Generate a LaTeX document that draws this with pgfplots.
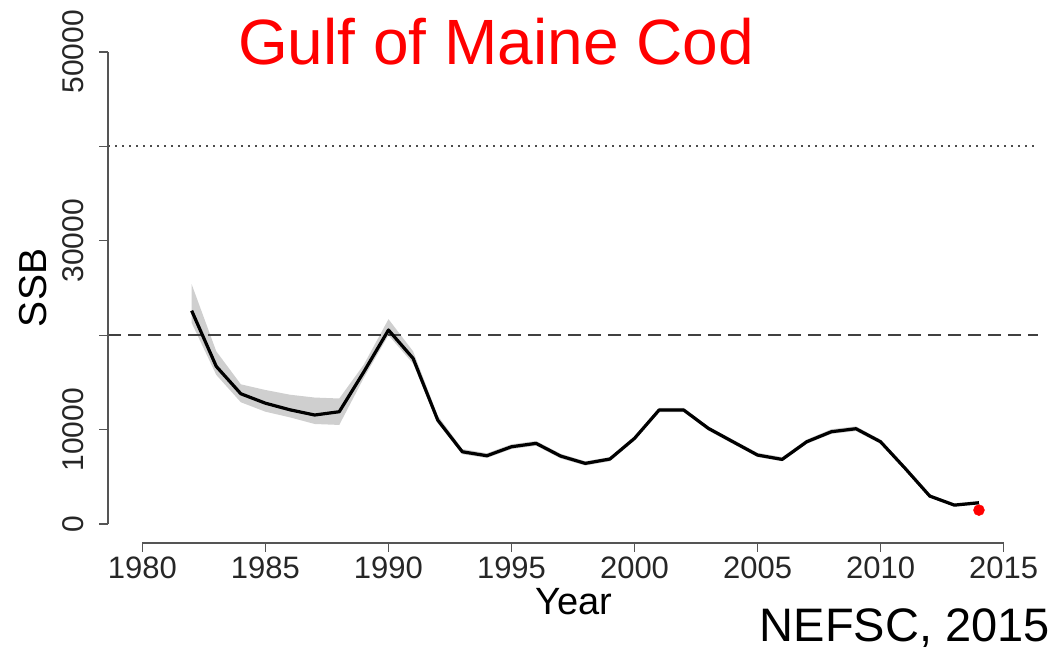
\documentclass[border=0pt]{standalone}
\usepackage{fontspec}
\setmainfont{Liberation Sans}
\usepackage{pgfplots}
\usepackage{pgfplotstable}
\usepgfplotslibrary{fillbetween}
\pgfplotsset{compat=1.18}
\pgfplotstableread{
year ssb lo hi
1982 22600 21300 25400
1983 16700 15800 18300
1984 13800 12900 14800
1985 12800 11900 14200
1986 12100 11300 13700
1987 11550 10600 13400
1988 11900 10500 13300
1989 16130 15500 16900
1990 20550 20000 21700
1991 17550 17000 18300
1992 11020 10700 11500
1993 7660 7400 7950
1994 7240 7000 7500
1995 8190 7950 8450
1996 8550 8300 8800
1997 7200 6950 7450
1998 6430 6200 6650
1999 6890 6650 7100
2000 9080 8850 9300
2001 12080 11850 12300
2002 12080 11850 12300
2003 10140 9900 10350
2004 8720 8500 8950
2005 7310 7100 7550
2006 6850 6650 7100
2007 8720 8500 8950
2008 9780 9550 10050
2009 10100 9850 10350
2010 8720 8500 8950
2011 5900 5700 6100
2012 2970 2800 3150
2013 2010 1850 2200
2014 2260 2100 2450
}\ssbdata
\definecolor{axgray}{HTML}{555555}
\begin{document}
\begin{tikzpicture}
\begin{axis}[
  at={(108pt,107pt)}, anchor=south west,
  scale only axis, width=930pt, height=510pt,
  xmin=1978.6, xmax=2016.4, ymin=-2000, ymax=52000,
  clip=false,
  axis line style={draw=none},
  xtick={1980,1985,...,2015},
  ytick={0,10000,20000,30000,40000,50000},
  yticklabels={0,10000,,30000,,50000},
  scaled ticks=false,
  xtick pos=left, ytick pos=left,
  tick align=outside,
  major tick length=9pt,
  tick style={axgray, line width=1.3pt},
  /pgf/number format/1000 sep={},
  /pgf/number format/assume math mode=true,
  xticklabel style={font=\fontsize{31}{31}\selectfont, text=black!85, anchor=north, yshift=-1pt},
  yticklabel style={font=\fontsize{30}{30}\selectfont, text=black!85, rotate=90, anchor=south, yshift=12pt},
]
\addplot[name path=hi, draw=none, forget plot] table[x=year, y=hi] {\ssbdata};
\addplot[name path=lo, draw=none, forget plot] table[x=year, y=lo] {\ssbdata};
\addplot[fill=gray!38, draw=none] fill between[of=hi and lo];
\addplot[black!75, line width=1.8pt, dash pattern=on 13pt off 7pt] coordinates {(1978.6,20000) (2016.4,20000)};
\addplot[black!70, line width=2pt, dash pattern=on 2pt off 5pt] coordinates {(1978.6,40000) (2016.4,40000)};
\addplot[black, line width=3.2pt, line join=round] table[x=year, y=ssb] {\ssbdata};
\addplot[only marks, mark=*, mark size=5.5pt, red, mark options={fill=red, draw=red}] coordinates {(2014,1480)};
\draw[axgray, line width=1.3pt] (axis cs:1980,-2000) -- (axis cs:2015,-2000);
\draw[axgray, line width=1.3pt] (axis cs:1978.6,0) -- (axis cs:1978.6,50000);
\end{axis}
\node[anchor=base, text=red, font=\fontsize{64}{64}\selectfont, inner sep=0pt] at (496pt,585pt) {Gulf of Maine Cod};
\node[anchor=base, font=\fontsize{38}{38}\selectfont, inner sep=0pt] at (574pt,35pt) {Year};
\node[anchor=base, rotate=90, font=\fontsize{39}{39}\selectfont, inner sep=0pt] at (46pt,362pt) {SSB};
\node[anchor=base east, font=\fontsize{47}{47}\selectfont, inner sep=0pt] at (1050pt,8pt) {NEFSC, 2015};
\pgfresetboundingbox
\path[use as bounding box] (0pt,0pt) rectangle (1055pt,650pt);
\end{tikzpicture}
\end{document}
